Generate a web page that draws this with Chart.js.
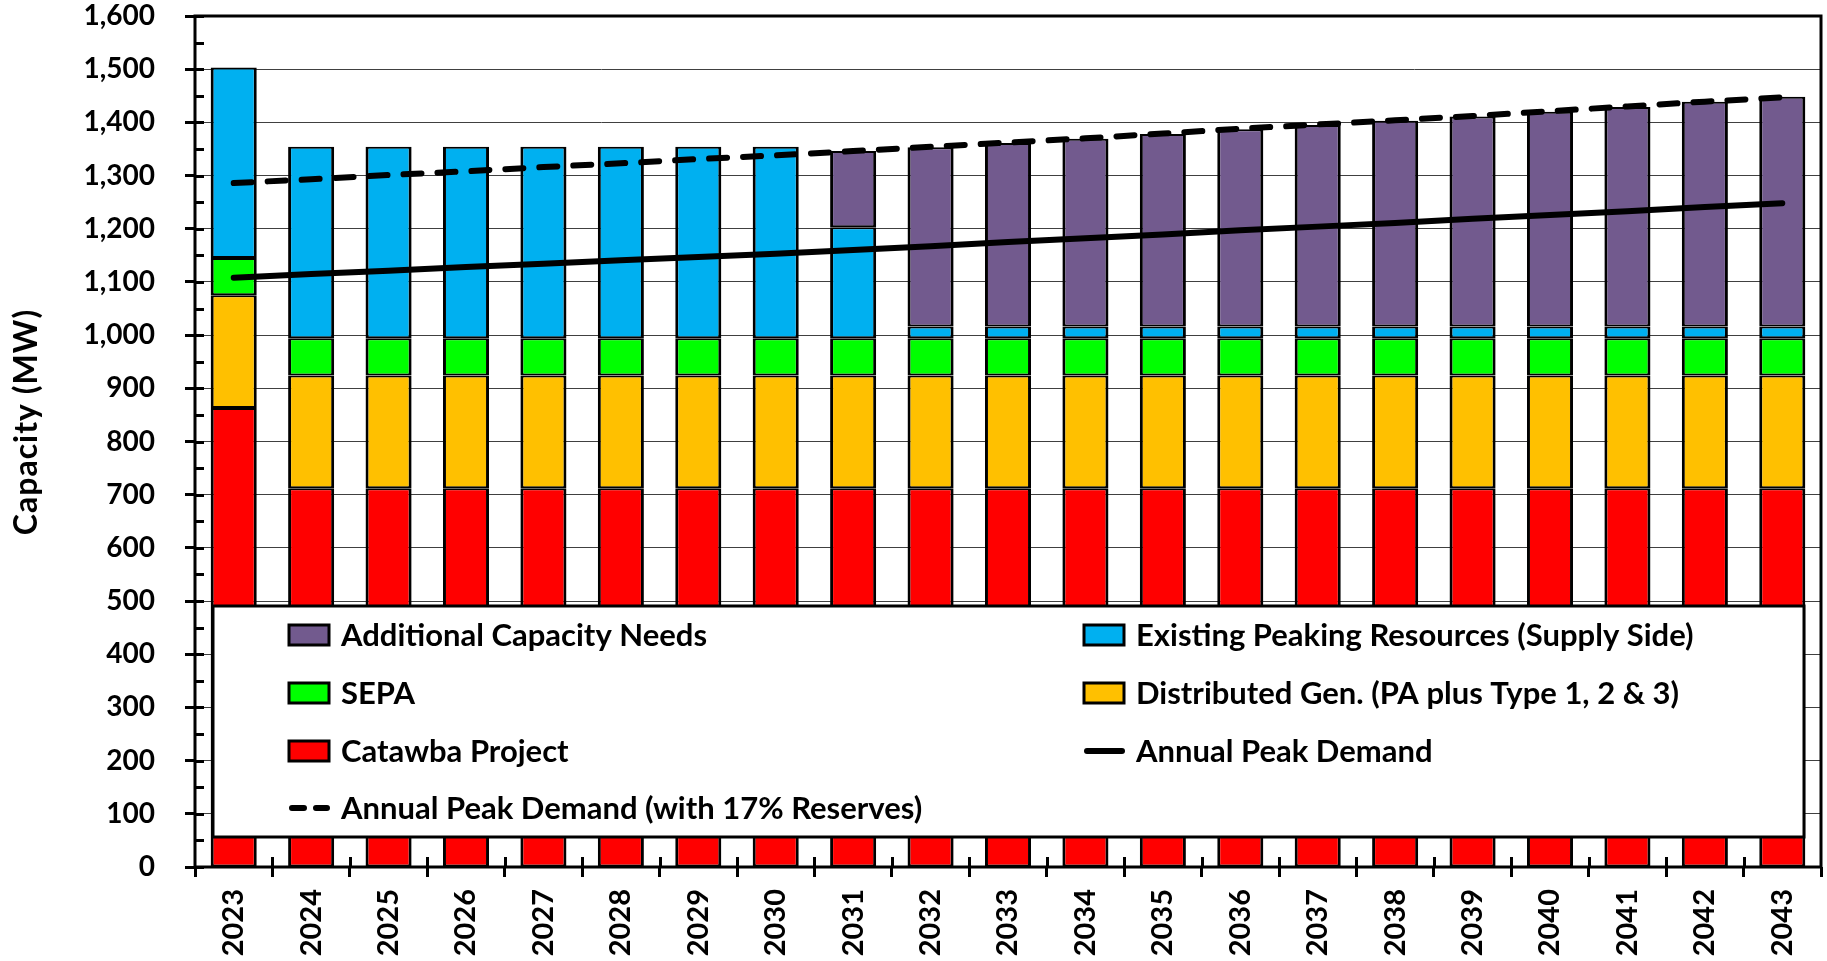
<!DOCTYPE html>
<html lang="en">
<head>
  <meta charset="UTF-8" />
  <title>Capacity Needs</title>
  <style>
    body {
      margin: 0;
      padding: 0;
      background: #fff;
    }
    #chart {
      display: block;
    }
  </style>
  <script src="https://cdn.jsdelivr.net/npm/chart.js"></script>
</head>
<body>
  <canvas id="chart" width="1827" height="961"></canvas>

  <script>
    const years = ['2023', '2024', '2025', '2026', '2027', '2028', '2029', '2030', '2031', '2032', '2033',
                   '2034', '2035', '2036', '2037', '2038', '2039', '2040', '2041', '2042', '2043'];

    // stacked bar segments (MW)
    const catawba    = [863, 712, 712, 712, 712, 712, 712, 712, 712, 712, 712, 712, 712, 712, 712, 712, 712, 712, 712, 712, 712];
    const distGen    = [212, 212, 212, 212, 212, 212, 212, 212, 212, 212, 212, 212, 212, 212, 212, 212, 212, 212, 212, 212, 212];
    const sepa       = [70, 70, 70, 70, 70, 70, 70, 70, 70, 70, 70, 70, 70, 70, 70, 70, 70, 70, 70, 70, 70];
    const existing   = [358, 360, 360, 360, 360, 360, 360, 360, 209, 22, 22, 22, 22, 22, 22, 22, 22, 22, 22, 22, 22];
    const additional = [null, null, null, null, null, null, null, null, 143, 337, 345, 353, 362, 371, 379, 387, 395, 404, 413, 423, 432];

    // demand lines (MW)
    const peakDemand  = [1108, 1115, 1121, 1128, 1134, 1141, 1147, 1153, 1160, 1167, 1175,
                         1182, 1189, 1197, 1204, 1211, 1219, 1226, 1233, 1241, 1248];
    const peakReserve = [1286, 1293, 1301, 1308, 1316, 1323, 1331, 1338, 1346, 1354, 1362,
                         1370, 1379, 1388, 1396, 1404, 1412, 1421, 1430, 1439, 1447];

    const yTicks = { min: 0, max: 1600, step: 100, minor: 50 };

    const FONT = 'Lato, "Open Sans", sans-serif';
    const barBorder = { top: 2, bottom: 2, left: 3, right: 3 };

    // legend layout: [dataset index, column, row]
    const legendLayout = [
      [6, 0, 0], [5, 1, 0],
      [4, 0, 1], [3, 1, 1],
      [2, 0, 2], [0, 1, 2],
      [1, 0, 3]
    ];

    const innerTicks = {
      id: 'innerTicks',
      afterDraw(chart) {
        const c = chart.ctx, a = chart.chartArea;
        const y = chart.scales.y, x = chart.scales.x;
        c.save();
        c.strokeStyle = '#000';
        c.lineWidth = 3;
        c.beginPath();
        for (let v = yTicks.min; v <= yTicks.max; v += yTicks.minor) {
          const py = Math.round(y.getPixelForValue(v)) + 0.5;
          c.moveTo(a.left, py);
          c.lineTo(a.left + 9, py);
        }
        const step = x.getPixelForValue(1) - x.getPixelForValue(0);
        for (let i = 0; i < years.length - 1; i++) {
          const px = Math.round(x.getPixelForValue(i) + step / 2) + 0.5;
          c.moveTo(px, a.bottom);
          c.lineTo(px, a.bottom - 10);
        }
        c.stroke();
        c.lineWidth = 3;
        c.strokeRect(a.left, a.top, a.right - a.left, a.bottom - a.top);
        c.restore();
      }
    };

    const legendBox = {
      id: 'legendBox',
      afterDraw(chart) {
        const c = chart.ctx;
        const box = { x: 213, y: 606, w: 1591, h: 231 };
        const cols = [289, 1084];
        const rows = [635, 693, 751, 808];
        c.save();
        c.fillStyle = '#fff';
        c.fillRect(box.x, box.y, box.w, box.h);
        c.strokeStyle = '#000';
        c.lineWidth = 3;
        c.strokeRect(box.x, box.y, box.w, box.h);
        c.font = '700 31px ' + FONT;
        c.textBaseline = 'middle';
        c.textAlign = 'left';
        legendLayout.forEach(([di, col, row]) => {
          const ds = chart.data.datasets[di];
          const sx = cols[col], sy = rows[row];
          if (ds.type === 'line') {
            c.strokeStyle = '#000';
            c.lineWidth = 6;
            c.lineCap = 'round';
            c.setLineDash(ds.borderDash ? [12, 12] : []);
            c.beginPath();
            c.moveTo(sx + 3, sy);
            c.lineTo(sx + 38, sy);
            c.stroke();
            c.setLineDash([]);
          } else {
            c.fillStyle = ds.backgroundColor;
            c.fillRect(sx, sy - 10, 40, 20);
            c.strokeStyle = '#000';
            c.lineWidth = 3;
            c.strokeRect(sx, sy - 10, 40, 20);
          }
          c.fillStyle = '#000';
          c.fillText(ds.label, sx + 52, sy + 1);
        });
        c.restore();
      }
    };

    const yTitle = {
      id: 'yTitle',
      afterDraw(chart) {
        const c = chart.ctx;
        c.save();
        c.translate(27, 422);
        c.rotate(-Math.PI / 2);
        c.font = '700 32px ' + FONT;
        if ('letterSpacing' in c) c.letterSpacing = '1px';
        c.fillStyle = '#000';
        c.textAlign = 'center';
        c.textBaseline = 'middle';
        c.fillText('Capacity (MW)', 0, 0);
        c.restore();
      }
    };

    const bar = (label, data, color) => ({
      label: label,
      data: data,
      backgroundColor: color,
      borderColor: '#000',
      borderWidth: barBorder,
      borderSkipped: false,
      stack: 'capacity',
      categoryPercentage: 1,
      barPercentage: 0.595,
      order: 1
    });

    const ctx = document.getElementById('chart').getContext('2d');
    const chart = new Chart(ctx, {
      type: 'bar',
      data: {
        labels: years,
        datasets: [
          {
            type: 'line', label: 'Annual Peak Demand', data: peakDemand, stack: 'l1',
            borderColor: '#000', borderWidth: 6, borderCapStyle: 'round',
            pointRadius: 0, tension: 0, fill: false, order: 0
          },
          {
            type: 'line', label: 'Annual Peak Demand (with 17% Reserves)', data: peakReserve, stack: 'l2',
            borderColor: '#000', borderWidth: 6, borderCapStyle: 'round', borderDash: [18, 16],
            pointRadius: 0, tension: 0, fill: false, order: 0
          },
          bar('Catawba Project', catawba, '#FF0000'),
          bar('Distributed Gen. (PA plus Type 1, 2 & 3)', distGen, '#FFC000'),
          bar('SEPA', sepa, '#00FF00'),
          bar('Existing Peaking Resources (Supply Side)', existing, '#00B0F0'),
          bar('Additional Capacity Needs', additional, '#725A8E')
        ]
      },
      options: {
        responsive: false,
        animation: false,
        devicePixelRatio: 1,
        layout: { padding: { top: 16, right: 6, left: 0, bottom: 0 } },
        plugins: {
          legend: { display: false },
          tooltip: { enabled: false }
        },
        scales: {
          x: {
            stacked: true,
            offset: true,
            border: { display: false },
            grid: {
              offset: true,
              drawOnChartArea: false,
              drawTicks: true,
              tickLength: 10,
              tickWidth: 3,
              tickColor: '#000'
            },
            ticks: {
              color: '#000',
              font: { family: FONT, size: 29, weight: '700' },
              minRotation: 90,
              maxRotation: 90,
              padding: 12,
              autoSkip: false
            },
            afterFit(scale) {
              scale.height = 94;
              scale.paddingLeft = 0;
              scale.paddingRight = 0;
            }
          },
          y: {
            stacked: true,
            min: yTicks.min,
            max: yTicks.max,
            border: { display: false },
            grid: {
              color: '#404040',
              lineWidth: 1,
              tickLength: 10,
              tickWidth: 3,
              tickColor: '#000'
            },
            ticks: {
              stepSize: yTicks.step,
              color: '#000',
              font: { family: FONT, size: 28, weight: '700' },
              padding: 30,
              callback: v => v.toLocaleString('en-US')
            },
            afterFit(scale) {
              scale.width = 195;
              scale.paddingTop = 0;
              scale.paddingBottom = 0;
            }
          }
        }
      },
      plugins: [innerTicks, legendBox, yTitle]
    });
  </script>
</body>
</html>
